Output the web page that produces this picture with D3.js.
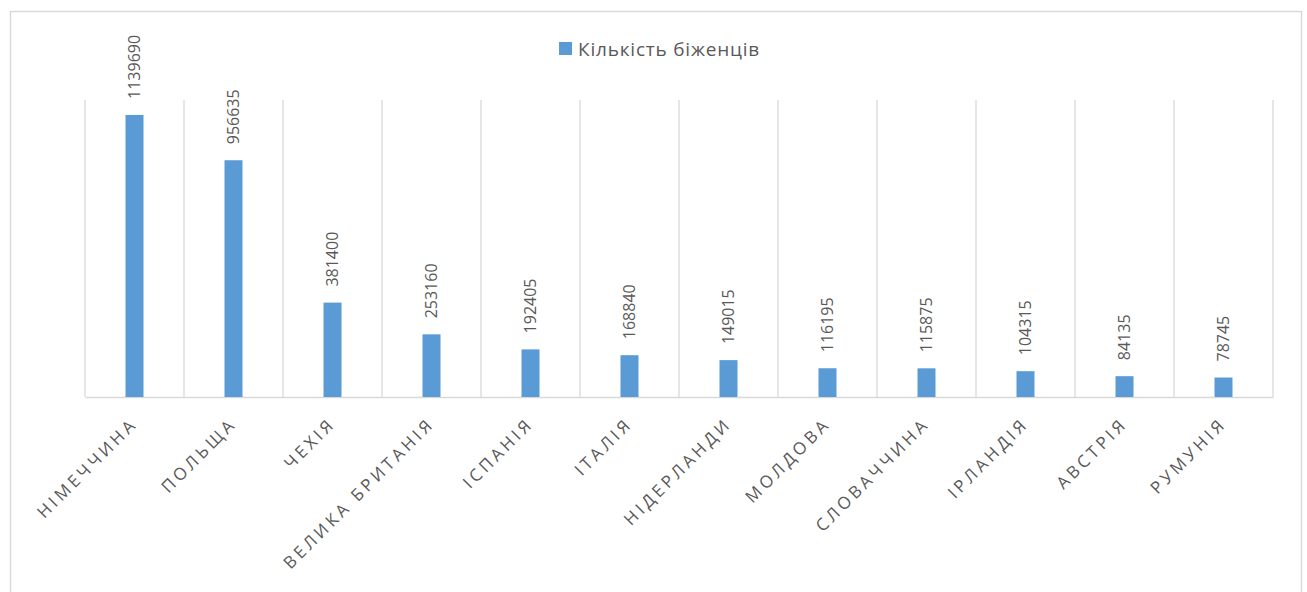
<!DOCTYPE html>
<html>
<head>
<meta charset="utf-8">
<script src="https://cdn.jsdelivr.net/npm/d3@7"></script>
<style>
  body { margin: 0; background: #fff; }
  text { font-family: "Open Sans", "Liberation Sans", sans-serif; fill: #595959; }
</style>
</head>
<body>
<svg id="chart" width="1307" height="592"></svg>
<script>
var countries = ["НІМЕЧЧИНА", "ПОЛЬЩА", "ЧЕХІЯ", "ВЕЛИКА БРИТАНІЯ", "ІСПАНІЯ", "ІТАЛІЯ",
                 "НІДЕРЛАНДИ", "МОЛДОВА", "СЛОВАЧЧИНА", "ІРЛАНДІЯ", "АВСТРІЯ", "РУМУНІЯ"];
var refugees = [1139690, 956635, 381400, 253160, 192405, 168840,
                149015, 116195, 115875, 104315, 84135, 78745];
var seriesName = "Кількість біженців";

var svg = d3.select("#chart");
var margin = {top: 100, left: 85, right: 34, bottom: 195};
var width = 1307 - margin.left - margin.right;
var height = 592 - margin.top - margin.bottom;

// outer chart border
svg.append("rect")
    .attr("x", 10.5).attr("y", 11.5)
    .attr("width", 1291).attr("height", 600)
    .attr("fill", "none")
    .attr("stroke", "#d9d9d9")
    .attr("stroke-width", 1.5);

var g = svg.append("g").attr("transform", "translate(" + margin.left + "," + margin.top + ")");

var x = d3.scaleBand().domain(countries).range([0, width]);
var y = d3.scaleLinear().domain([0, 1200000]).range([height, 0]);

// vertical gridlines at category boundaries
var bounds = countries.map(function(d) { return x(d); }).concat([width]);
g.selectAll(".grid")
    .data(bounds)
    .enter().append("line")
    .attr("x1", function(d) { return d; })
    .attr("x2", function(d) { return d; })
    .attr("y1", 0)
    .attr("y2", height)
    .attr("stroke", "#d9d9d9")
    .attr("stroke-width", 1.3);

var xAxis = g.append("g")
    .attr("transform", "translate(0," + height + ")")
    .call(d3.axisBottom(x).tickSize(0).tickPadding(0));
xAxis.select(".domain").attr("stroke", "#d9d9d9").attr("stroke-width", 1.5);
xAxis.selectAll("text")
    .style("font-size", "17px")
    .style("letter-spacing", "3.5px")
    .attr("fill", "#595959")
    .attr("text-anchor", "end")
    .attr("dy", "0")
    .attr("transform", "translate(4,28) rotate(-45)");

var bw = 18;
g.selectAll(".bar")
    .data(refugees)
    .enter().append("rect")
    .attr("x", function(d, i) { return x(countries[i]) + x.bandwidth() / 2 - bw / 2; })
    .attr("y", function(d) { return y(d); })
    .attr("width", bw)
    .attr("height", function(d) { return height - y(d); })
    .attr("fill", "#5b9bd5");

g.selectAll(".lbl")
    .data(refugees)
    .enter().append("text")
    .attr("transform", function(d, i) {
        return "translate(" + (x(countries[i]) + x.bandwidth() / 2 + 5.5) + "," + (y(d) - 16) + ") rotate(-90)";
    })
    .style("font-size", "16px")
    .text(function(d) { return d; });

// legend
var leg = svg.append("g").attr("transform", "translate(559,42)");
leg.append("rect").attr("width", 13).attr("height", 13).attr("fill", "#5b9bd5");
leg.append("text").attr("x", 19).attr("y", 13.5)
    .style("font-size", "19px")
    .style("letter-spacing", "0.8px")
    .text(seriesName);
</script>
</body>
</html>
